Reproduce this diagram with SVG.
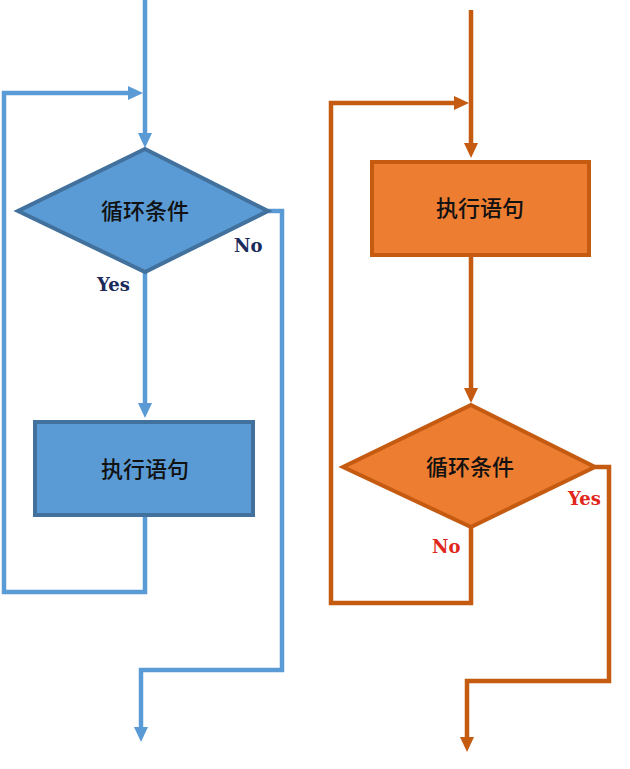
<svg xmlns="http://www.w3.org/2000/svg" width="630" height="769" viewBox="0 0 630 769">
<style>
.bl{fill:none;stroke:#5B9BD5;stroke-width:4.5;stroke-linejoin:miter}
.ol{fill:none;stroke:#C55A11;stroke-width:4.5;stroke-linejoin:miter}
.bnode{fill:#5B9BD5;stroke:#41719C;stroke-width:4}
.onode{fill:#ED7D31;stroke:#C55A11;stroke-width:4}
.cn{font-family:"Noto Sans CJK SC","Noto Sans",sans-serif;font-size:22px;font-weight:500;fill:#111;text-anchor:middle}
.lab{font-family:"DejaVu Serif","Liberation Serif",serif;font-weight:bold;font-size:18px}
.lb{fill:#1A2A5A}
.lo{fill:#E0261B}
</style>
<defs>
<marker id="ab" markerUnits="userSpaceOnUse" markerWidth="15" markerHeight="15" refX="6" refY="7.5" orient="auto" viewBox="0 0 15 15">
<path d="M0,0.5 L15,7.5 L0,14.5 z" fill="#5B9BD5"/>
</marker>
<marker id="ao" markerUnits="userSpaceOnUse" markerWidth="15" markerHeight="15" refX="6" refY="7.5" orient="auto" viewBox="0 0 15 15">
<path d="M0,0.5 L15,7.5 L0,14.5 z" fill="#C55A11"/>
</marker>
</defs>
<g id="connectors">
<path class="bl" d="M145,0 V139" marker-end="url(#ab)"/>
<path class="bl" d="M145,517 V592 H4 V93 H134" marker-end="url(#ab)"/>
<path class="bl" d="M145,272 V409" marker-end="url(#ab)"/>
<path class="bl" d="M268,211 H282 V670 H141 V733" marker-end="url(#ab)"/>
<path class="ol" d="M471,10 V149" marker-end="url(#ao)"/>
<path class="ol" d="M471,257 V394" marker-end="url(#ao)"/>
<path class="ol" d="M471,527 V603 H331 V103 H460" marker-end="url(#ao)"/>
<path class="ol" d="M595,467 H609 V681 H467 V743" marker-end="url(#ao)"/>
</g>
<g id="b-cond">
<polygon class="bnode" points="145,149 268,211 145,272 18,211"/>
<text class="cn" x="145" y="219">循环条件</text>
</g>
<g id="b-exec">
<rect class="bnode" x="35" y="422" width="218" height="93"/>
<text class="cn" x="145" y="477">执行语句</text>
</g>
<g id="o-exec">
<rect class="onode" x="372" y="162" width="217" height="93"/>
<text class="cn" x="480" y="216">执行语句</text>
</g>
<g id="o-cond">
<polygon class="onode" points="471,405 595,467 471,527 343,467"/>
<text class="cn" x="470" y="475">循环条件</text>
</g>
<g id="labels">
<text class="lab lb" x="234" y="252">No</text>
<text class="lab lb" x="97" y="291">Yes</text>
<text class="lab lo" x="568" y="505">Yes</text>
<text class="lab lo" x="432" y="553">No</text>
</g>
</svg>
